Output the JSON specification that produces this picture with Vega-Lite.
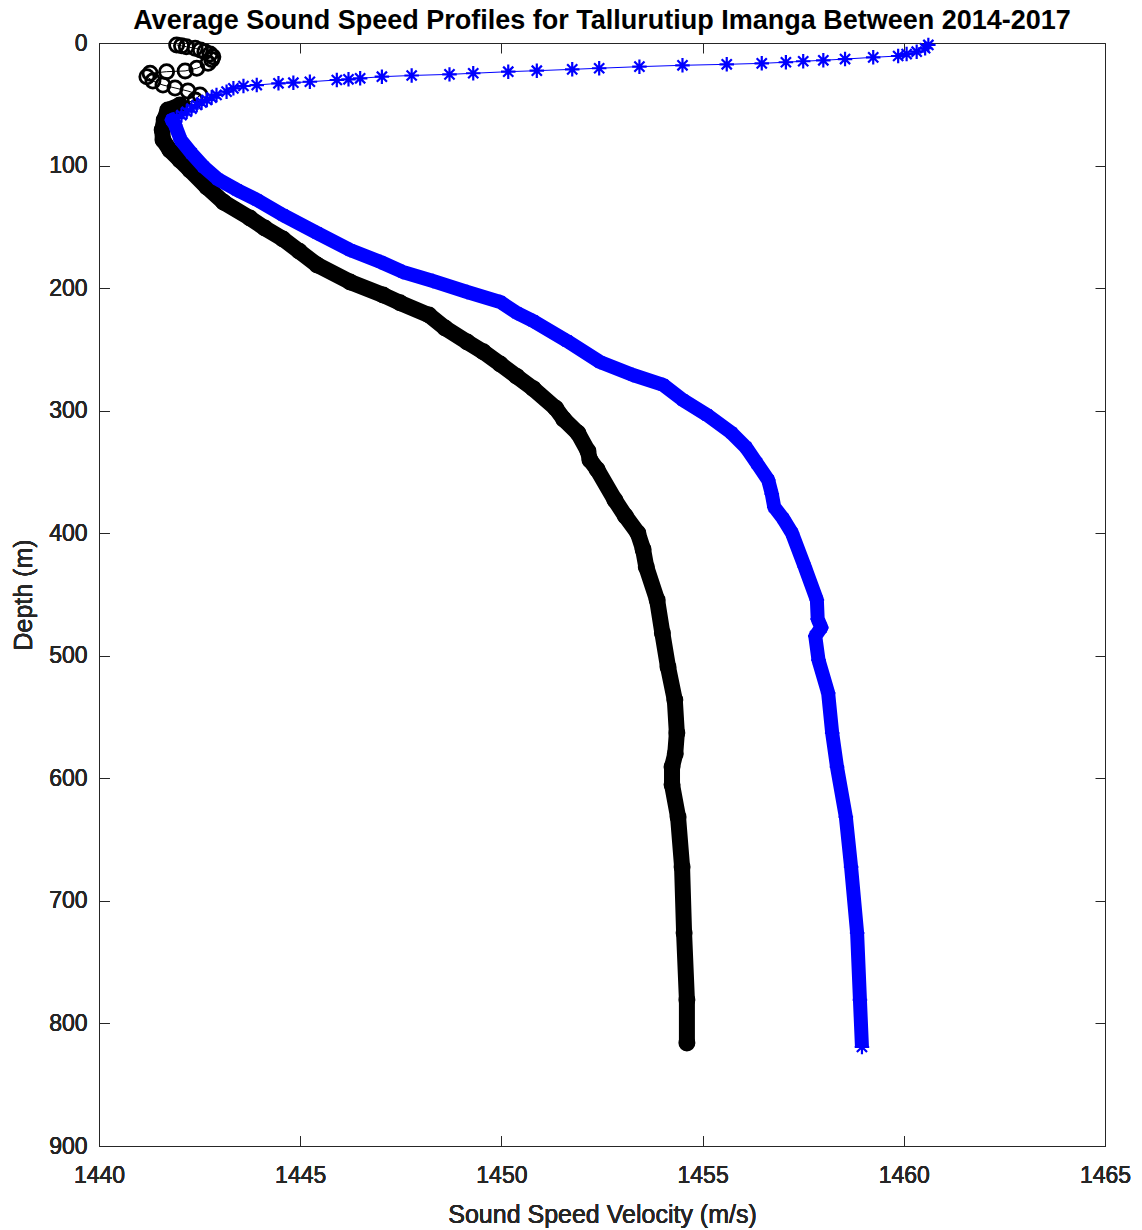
{
  "$schema": "https://vega.github.io/schema/vega-lite/v6.json",
  "width": 1006,
  "height": 1103,
  "autosize": {"type": "none"},
  "padding": {"left": 99, "top": 43, "right": 37, "bottom": 84},
  "background": "white",
  "title": {
    "text": "Average Sound Speed Profiles for Tallurutiup Imanga Between 2014-2017",
    "fontSize": 27,
    "font": "Liberation Sans",
    "fontWeight": "bold",
    "color": "#000000",
    "anchor": "middle",
    "offset": -3
  },
  "config": {
    "view": {"stroke": "#262626", "strokeWidth": 1},
    "axis": {
      "grid": false,
      "domainColor": "#262626",
      "tickColor": "#262626",
      "tickSize": -10,
      "labelFont": "Liberation Sans",
      "labelFontSize": 23,
      "labelColor": "#262626",
      "titleFont": "Liberation Sans",
      "titleFontSize": 25,
      "titleFontWeight": "normal",
      "titleColor": "#262626"
    }
  },
  "data": {
    "values": [
      {"profile": "Profile 1", "depth": 1.6, "speed": 1441.93},
      {"profile": "Profile 1", "depth": 2.3, "speed": 1442.05},
      {"profile": "Profile 1", "depth": 3.0, "speed": 1442.17},
      {"profile": "Profile 1", "depth": 4.3, "speed": 1442.39},
      {"profile": "Profile 1", "depth": 5.7, "speed": 1442.52},
      {"profile": "Profile 1", "depth": 7.1, "speed": 1442.63},
      {"profile": "Profile 1", "depth": 9.0, "speed": 1442.76},
      {"profile": "Profile 1", "depth": 11.2, "speed": 1442.83},
      {"profile": "Profile 1", "depth": 13.5, "speed": 1442.8},
      {"profile": "Profile 1", "depth": 16.6, "speed": 1442.71},
      {"profile": "Profile 1", "depth": 20.6, "speed": 1442.43},
      {"profile": "Profile 1", "depth": 22.8, "speed": 1442.14},
      {"profile": "Profile 1", "depth": 23.4, "speed": 1441.68},
      {"profile": "Profile 1", "depth": 24.7, "speed": 1441.27},
      {"profile": "Profile 1", "depth": 27.5, "speed": 1441.19},
      {"profile": "Profile 1", "depth": 31.0, "speed": 1441.34},
      {"profile": "Profile 1", "depth": 34.3, "speed": 1441.59},
      {"profile": "Profile 1", "depth": 36.7, "speed": 1441.89},
      {"profile": "Profile 1", "depth": 39.2, "speed": 1442.21},
      {"profile": "Profile 1", "depth": 42.4, "speed": 1442.51},
      {"profile": "Profile 1", "depth": 46.5, "speed": 1442.39},
      {"profile": "Profile 1", "depth": 50.6, "speed": 1442.01},
      {"profile": "Profile 1", "depth": 54.7, "speed": 1441.71},
      {"profile": "Profile 1", "depth": 62.8, "speed": 1441.62},
      {"profile": "Profile 1", "depth": 71.0, "speed": 1441.57},
      {"profile": "Profile 1", "depth": 79.1, "speed": 1441.59},
      {"profile": "Profile 1", "depth": 87.3, "speed": 1441.76},
      {"profile": "Profile 1", "depth": 95.5, "speed": 1442.01},
      {"profile": "Profile 1", "depth": 103.6, "speed": 1442.26},
      {"profile": "Profile 1", "depth": 117.5, "speed": 1442.68},
      {"profile": "Profile 1", "depth": 130.0, "speed": 1443.1},
      {"profile": "Profile 1", "depth": 142.8, "speed": 1443.75},
      {"profile": "Profile 1", "depth": 151.0, "speed": 1444.12},
      {"profile": "Profile 1", "depth": 159.9, "speed": 1444.57},
      {"profile": "Profile 1", "depth": 170.0, "speed": 1444.98},
      {"profile": "Profile 1", "depth": 181.1, "speed": 1445.42},
      {"profile": "Profile 1", "depth": 195.0, "speed": 1446.24},
      {"profile": "Profile 1", "depth": 205.6, "speed": 1447.06},
      {"profile": "Profile 1", "depth": 212.0, "speed": 1447.48},
      {"profile": "Profile 1", "depth": 222.0, "speed": 1448.2},
      {"profile": "Profile 1", "depth": 232.5, "speed": 1448.6},
      {"profile": "Profile 1", "depth": 244.0, "speed": 1449.15},
      {"profile": "Profile 1", "depth": 252.0, "speed": 1449.55},
      {"profile": "Profile 1", "depth": 262.0, "speed": 1449.97},
      {"profile": "Profile 1", "depth": 272.0, "speed": 1450.38},
      {"profile": "Profile 1", "depth": 282.0, "speed": 1450.79},
      {"profile": "Profile 1", "depth": 298.0, "speed": 1451.35},
      {"profile": "Profile 1", "depth": 307.0, "speed": 1451.55},
      {"profile": "Profile 1", "depth": 318.2, "speed": 1451.9},
      {"profile": "Profile 1", "depth": 333.0, "speed": 1452.15},
      {"profile": "Profile 1", "depth": 340.2, "speed": 1452.2},
      {"profile": "Profile 1", "depth": 348.0, "speed": 1452.38},
      {"profile": "Profile 1", "depth": 372.9, "speed": 1452.82},
      {"profile": "Profile 1", "depth": 386.0, "speed": 1453.08},
      {"profile": "Profile 1", "depth": 399.8, "speed": 1453.39},
      {"profile": "Profile 1", "depth": 413.0, "speed": 1453.52},
      {"profile": "Profile 1", "depth": 427.5, "speed": 1453.6},
      {"profile": "Profile 1", "depth": 454.5, "speed": 1453.87},
      {"profile": "Profile 1", "depth": 481.4, "speed": 1454.0},
      {"profile": "Profile 1", "depth": 509.1, "speed": 1454.14},
      {"profile": "Profile 1", "depth": 536.1, "speed": 1454.31},
      {"profile": "Profile 1", "depth": 563.0, "speed": 1454.36},
      {"profile": "Profile 1", "depth": 580.0, "speed": 1454.32},
      {"profile": "Profile 1", "depth": 590.7, "speed": 1454.24},
      {"profile": "Profile 1", "depth": 605.0, "speed": 1454.24},
      {"profile": "Profile 1", "depth": 631.5, "speed": 1454.39},
      {"profile": "Profile 1", "depth": 672.3, "speed": 1454.49},
      {"profile": "Profile 1", "depth": 726.2, "speed": 1454.54},
      {"profile": "Profile 1", "depth": 780.8, "speed": 1454.61},
      {"profile": "Profile 1", "depth": 815.9, "speed": 1454.61},
      {"profile": "Profile 2", "depth": 1.6, "speed": 1460.61},
      {"profile": "Profile 2", "depth": 4.3, "speed": 1460.53},
      {"profile": "Profile 2", "depth": 7.1, "speed": 1460.32},
      {"profile": "Profile 2", "depth": 9.0, "speed": 1460.07},
      {"profile": "Profile 2", "depth": 10.6, "speed": 1459.86},
      {"profile": "Profile 2", "depth": 11.7, "speed": 1459.24},
      {"profile": "Profile 2", "depth": 13.1, "speed": 1458.54},
      {"profile": "Profile 2", "depth": 14.1, "speed": 1458.0},
      {"profile": "Profile 2", "depth": 14.9, "speed": 1457.5},
      {"profile": "Profile 2", "depth": 15.7, "speed": 1457.07},
      {"profile": "Profile 2", "depth": 16.6, "speed": 1456.47},
      {"profile": "Profile 2", "depth": 17.4, "speed": 1455.6},
      {"profile": "Profile 2", "depth": 18.2, "speed": 1454.5},
      {"profile": "Profile 2", "depth": 19.3, "speed": 1453.43},
      {"profile": "Profile 2", "depth": 20.6, "speed": 1452.43},
      {"profile": "Profile 2", "depth": 21.5, "speed": 1451.76},
      {"profile": "Profile 2", "depth": 22.6, "speed": 1450.88},
      {"profile": "Profile 2", "depth": 23.4, "speed": 1450.17},
      {"profile": "Profile 2", "depth": 24.7, "speed": 1449.3},
      {"profile": "Profile 2", "depth": 25.6, "speed": 1448.71},
      {"profile": "Profile 2", "depth": 26.5, "speed": 1447.77},
      {"profile": "Profile 2", "depth": 27.5, "speed": 1447.03},
      {"profile": "Profile 2", "depth": 28.8, "speed": 1446.49},
      {"profile": "Profile 2", "depth": 29.6, "speed": 1446.2},
      {"profile": "Profile 2", "depth": 30.2, "speed": 1445.91},
      {"profile": "Profile 2", "depth": 31.6, "speed": 1445.24},
      {"profile": "Profile 2", "depth": 32.4, "speed": 1444.83},
      {"profile": "Profile 2", "depth": 32.9, "speed": 1444.46},
      {"profile": "Profile 2", "depth": 34.3, "speed": 1443.92},
      {"profile": "Profile 2", "depth": 35.1, "speed": 1443.59},
      {"profile": "Profile 2", "depth": 37.0, "speed": 1443.34},
      {"profile": "Profile 2", "depth": 39.7, "speed": 1443.17},
      {"profile": "Profile 2", "depth": 42.4, "speed": 1442.92},
      {"profile": "Profile 2", "depth": 44.5, "speed": 1442.8},
      {"profile": "Profile 2", "depth": 46.5, "speed": 1442.68},
      {"profile": "Profile 2", "depth": 48.5, "speed": 1442.55},
      {"profile": "Profile 2", "depth": 50.6, "speed": 1442.43},
      {"profile": "Profile 2", "depth": 53.5, "speed": 1442.3},
      {"profile": "Profile 2", "depth": 56.1, "speed": 1442.18},
      {"profile": "Profile 2", "depth": 58.8, "speed": 1442.05},
      {"profile": "Profile 2", "depth": 61.4, "speed": 1441.93},
      {"profile": "Profile 2", "depth": 62.8, "speed": 1441.81},
      {"profile": "Profile 2", "depth": 66.9, "speed": 1441.89},
      {"profile": "Profile 2", "depth": 79.0, "speed": 1442.03},
      {"profile": "Profile 2", "depth": 90.0, "speed": 1442.3},
      {"profile": "Profile 2", "depth": 101.0, "speed": 1442.6},
      {"profile": "Profile 2", "depth": 111.0, "speed": 1442.95},
      {"profile": "Profile 2", "depth": 119.9, "speed": 1443.43},
      {"profile": "Profile 2", "depth": 128.1, "speed": 1443.93},
      {"profile": "Profile 2", "depth": 140.3, "speed": 1444.57},
      {"profile": "Profile 2", "depth": 155.0, "speed": 1445.42},
      {"profile": "Profile 2", "depth": 168.9, "speed": 1446.24},
      {"profile": "Profile 2", "depth": 178.7, "speed": 1447.0},
      {"profile": "Profile 2", "depth": 186.8, "speed": 1447.55},
      {"profile": "Profile 2", "depth": 194.2, "speed": 1448.3},
      {"profile": "Profile 2", "depth": 203.2, "speed": 1449.15},
      {"profile": "Profile 2", "depth": 211.3, "speed": 1449.97},
      {"profile": "Profile 2", "depth": 220.3, "speed": 1450.39},
      {"profile": "Profile 2", "depth": 226.8, "speed": 1450.79},
      {"profile": "Profile 2", "depth": 243.1, "speed": 1451.63},
      {"profile": "Profile 2", "depth": 260.3, "speed": 1452.45},
      {"profile": "Profile 2", "depth": 270.9, "speed": 1453.27},
      {"profile": "Profile 2", "depth": 279.0, "speed": 1454.02},
      {"profile": "Profile 2", "depth": 291.3, "speed": 1454.51},
      {"profile": "Profile 2", "depth": 303.5, "speed": 1455.11},
      {"profile": "Profile 2", "depth": 318.2, "speed": 1455.72},
      {"profile": "Profile 2", "depth": 330.0, "speed": 1456.08},
      {"profile": "Profile 2", "depth": 343.0, "speed": 1456.35},
      {"profile": "Profile 2", "depth": 356.6, "speed": 1456.63},
      {"profile": "Profile 2", "depth": 368.0, "speed": 1456.72},
      {"profile": "Profile 2", "depth": 378.6, "speed": 1456.78},
      {"profile": "Profile 2", "depth": 388.0, "speed": 1457.0},
      {"profile": "Profile 2", "depth": 399.8, "speed": 1457.22},
      {"profile": "Profile 2", "depth": 427.5, "speed": 1457.54},
      {"profile": "Profile 2", "depth": 454.5, "speed": 1457.84},
      {"profile": "Profile 2", "depth": 470.0, "speed": 1457.86},
      {"profile": "Profile 2", "depth": 477.0, "speed": 1457.95},
      {"profile": "Profile 2", "depth": 484.0, "speed": 1457.8},
      {"profile": "Profile 2", "depth": 503.4, "speed": 1457.88},
      {"profile": "Profile 2", "depth": 530.4, "speed": 1458.12},
      {"profile": "Profile 2", "depth": 563.0, "speed": 1458.22},
      {"profile": "Profile 2", "depth": 590.7, "speed": 1458.34},
      {"profile": "Profile 2", "depth": 631.5, "speed": 1458.56},
      {"profile": "Profile 2", "depth": 672.3, "speed": 1458.69},
      {"profile": "Profile 2", "depth": 726.2, "speed": 1458.84},
      {"profile": "Profile 2", "depth": 780.8, "speed": 1458.91},
      {"profile": "Profile 2", "depth": 819.2, "speed": 1458.96}
    ]
  },
  "encoding": {
    "x": {
      "field": "speed",
      "type": "quantitative",
      "scale": {"domain": [1440, 1465], "nice": false, "zero": false},
      "axis": {"orient": "bottom", "values": [1440, 1445, 1450, 1455, 1460, 1465], "format": "d", "title": "Sound Speed Velocity (m/s)", "labelPadding": 28, "titlePadding": 15, "labelFlush": false}
    },
    "y": {
      "field": "depth",
      "type": "quantitative",
      "scale": {"domain": [0, 900], "reverse": true, "nice": false, "zero": false},
      "axis": {"orient": "left", "values": [0, 100, 200, 300, 400, 500, 600, 700, 800, 900], "format": "d", "title": "Depth (m)", "labelPadding": 22, "titlePadding": 12, "labelFlush": false}
    },
    "order": {"field": "depth", "type": "quantitative"}
  },
  "layer": [
    {
      "transform": [{"filter": "datum.profile === 'Profile 1'"}],
      "mark": {"type": "line", "color": "#000000", "strokeWidth": 1},
      "encoding": {
        "x": {"field": "speed", "type": "quantitative", "axis": {"orient": "top", "labels": false, "title": null, "domain": false, "values": [1440, 1445, 1450, 1455, 1460, 1465]}},
        "y": {"field": "depth", "type": "quantitative", "axis": {"orient": "right", "labels": false, "title": null, "domain": false, "values": [0, 100, 200, 300, 400, 500, 600, 700, 800, 900]}}
      }
    },
    {
      "transform": [{"filter": "datum.profile === 'Profile 1' && datum.depth >= 50"}],
      "mark": {"type": "line", "color": "#000000", "strokeWidth": 16, "strokeCap": "round", "strokeJoin": "round"}
    },
    {
      "transform": [{"filter": "datum.profile === 'Profile 1'"}],
      "mark": {"type": "point", "shape": "circle", "filled": false, "color": "#000000", "strokeWidth": 2.8, "size": 200, "opacity": 1}
    },
    {
      "transform": [{"filter": "datum.profile === 'Profile 2'"}],
      "mark": {"type": "line", "color": "#0000FF", "strokeWidth": 1}
    },
    {
      "transform": [{"filter": "datum.profile === 'Profile 2' && datum.depth >= 61"}],
      "mark": {"type": "line", "color": "#0000FF", "strokeWidth": 14, "strokeCap": "butt", "strokeJoin": "round"}
    },
    {
      "transform": [{"filter": "datum.profile === 'Profile 2'"}],
      "mark": {"type": "point", "shape": "M-1,0L1,0M0,-1L0,1M-0.7,-0.7L0.7,0.7M-0.7,0.7L0.7,-0.7", "filled": false, "color": "#0000FF", "strokeWidth": 2.2, "size": 210, "opacity": 1}
    }
  ]
}
